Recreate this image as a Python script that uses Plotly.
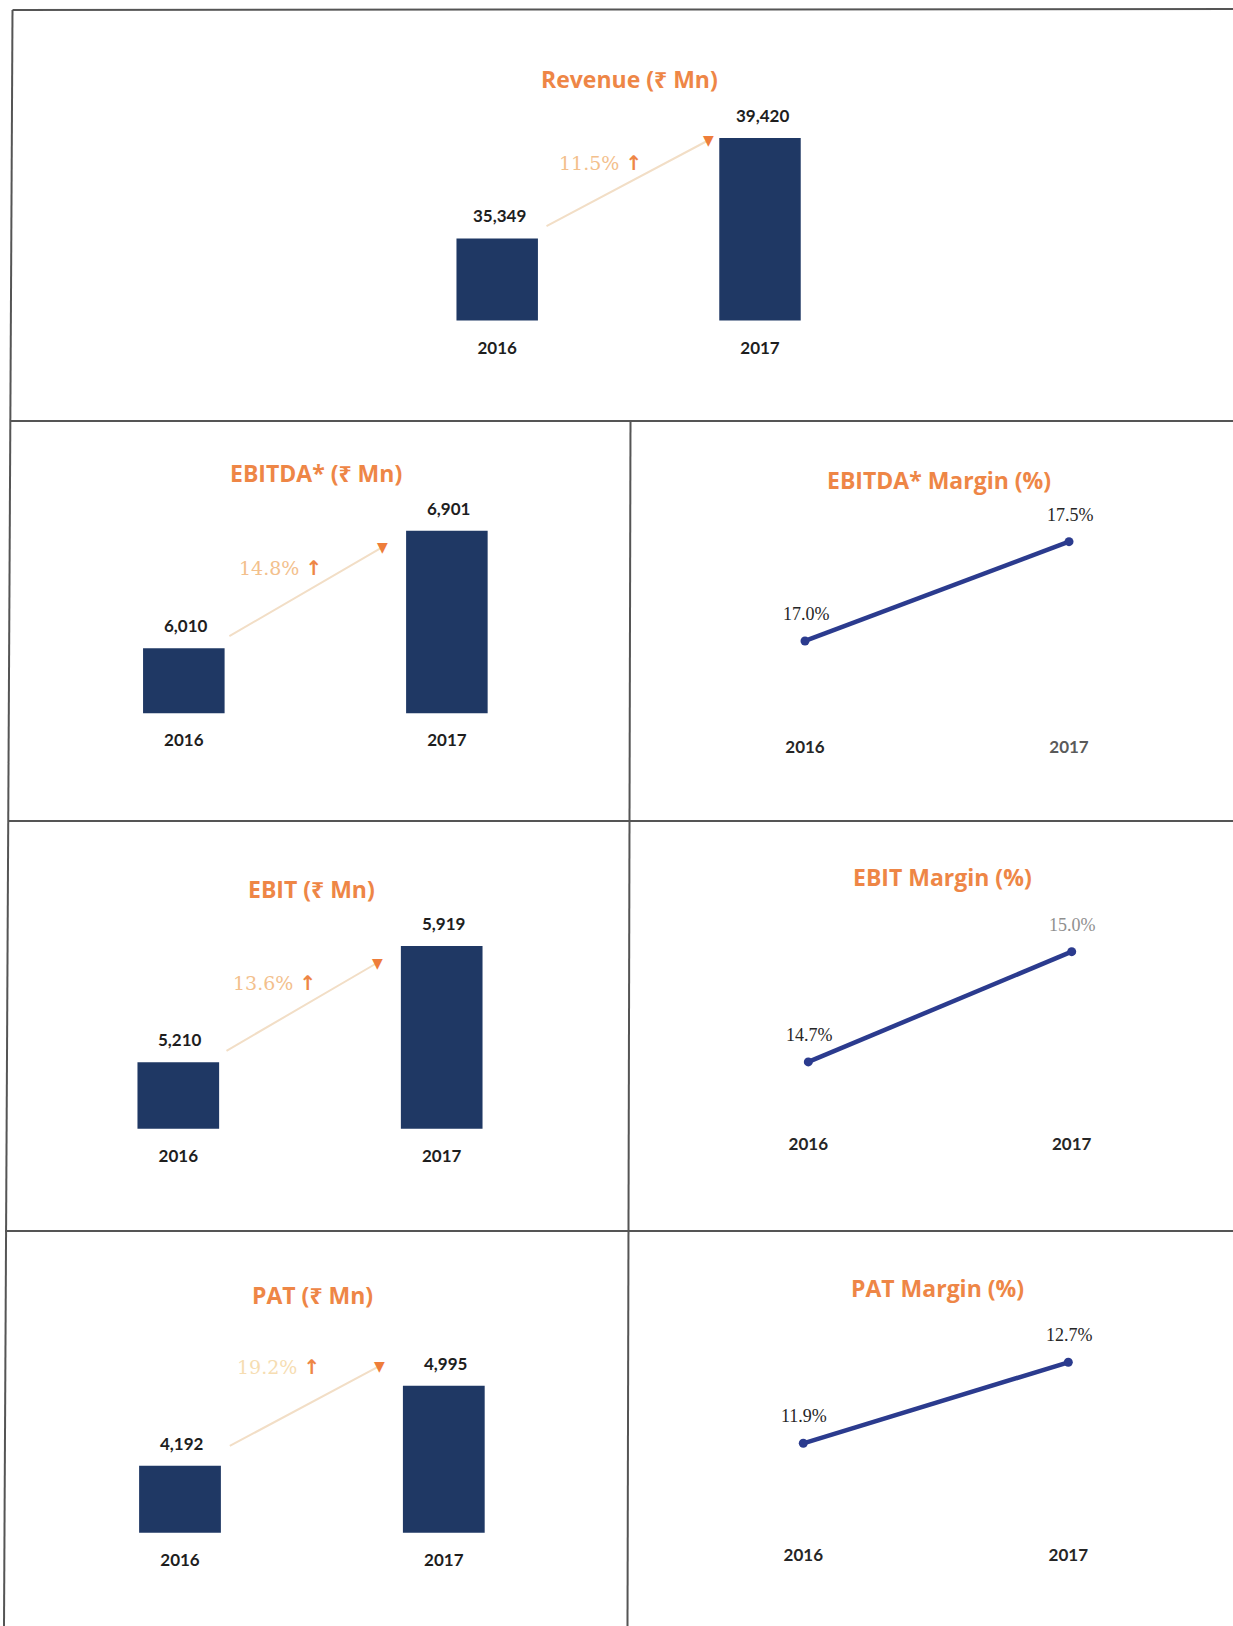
import plotly.graph_objects as go

# ---------------- data ----------------
years = ["2016", "2017"]
revenue = [35349, 39420]
ebitda = [6010, 6901]
ebit = [5210, 5919]
pat = [4192, 4995]
ebitda_margin = [17.0, 17.5]
ebit_margin = [14.7, 15.0]
pat_margin = [11.9, 12.7]

bar_titles = ["Revenue (₹ Mn)", "EBITDA* (₹ Mn)", "EBIT (₹ Mn)", "PAT (₹ Mn)"]
line_titles = ["EBITDA* Margin (%)", "EBIT Margin (%)", "PAT Margin (%)"]

# ---------------- layout helpers ----------------
W, H = 1233, 1626


def xp(px):
    return px / W


def yp(py):
    return 1 - py / H


ORANGE = "#EE8646"
PEACH = "#F3C08C"
NAVY_BAR = "#1F3864"
NAVY_LINE = "#2B3B8E"
DARK = "#1e1e1e"
BORDER = "#555555"
LABEL_FONT = "Lato, 'Noto Sans', sans-serif"
TITLE_FONT = "'Open Sans', 'Noto Sans', sans-serif"
SERIF = "'DejaVu Serif', 'Liberation Serif', serif"

bar_panels = [
    dict(values=revenue, title=bar_titles[0], xdom=(365.8, 891.4), ydom=(99.0, 320.5),
         yrange=(32027, 41000), title_xy=(629, 79), growth_xy=(600, 163),
         head=(-52, -2.5), tail=(-163, 86.5), gcolor=PEACH),
    dict(values=ebitda, title=bar_titles[1], xdom=(52.3, 578.4), ydom=(491.2, 713.3),
         yrange=(5517.5, 7200), title_xy=(316, 473), growth_xy=(280, 568),
         head=(-64, -16.3), tail=(-155, 90), gcolor=PEACH),
    dict(values=ebit, title=bar_titles[2], xdom=(46.6, 573.4), ydom=(899.9, 1128.7),
         yrange=(4805, 6200), title_xy=(311, 889), growth_xy=(274.5, 983),
         head=(-64.7, -17), tail=(-152, 88.7), gcolor=PEACH),
    dict(values=pat, title=bar_titles[3], xdom=(48.1, 575.7), ydom=(1315.5, 1532.7),
         yrange=(3519.5, 5700), title_xy=(312, 1295), growth_xy=(278, 1367),
         head=(-64.5, 19.7), tail=(-151, 80.7), gcolor="#F6DDB2"),
]

line_panels = [
    dict(values=ebitda_margin, title=line_titles[0], xdom=(673, 1201), ydom=(490, 720),
         yrange=(16.602, 17.760), title_xy=(939, 480), lblcolors=["#262626", "#262626"],
         tickcolors=["#262626", "#5a5a5a"]),
    dict(values=ebit_margin, title=line_titles[1], xdom=(676.6, 1203.4), ydom=(887, 1117),
         yrange=(14.550, 15.176), title_xy=(942, 877), lblcolors=["#262626", "#8f8f8f"],
         tickcolors=["#262626", "#262626"]),
    dict(values=pat_margin, title=line_titles[2], xdom=(670.8, 1200.8), ydom=(1298, 1528),
         yrange=(11.0635, 13.335), title_xy=(937, 1288), lblcolors=["#262626", "#262626"],
         tickcolors=["#262626", "#262626"]),
]

hidden_y = dict(showgrid=False, zeroline=False, showline=False, showticklabels=False, ticks="")

fig = go.Figure()
annotations = []
layout_axes = {}


def title_ann(p):
    return dict(x=xp(p["title_xy"][0]), y=yp(p["title_xy"][1]), xref="paper", yref="paper",
                text=p["title"], showarrow=False, xanchor="center", yanchor="middle",
                font=dict(family=TITLE_FONT, size=23, color=ORANGE, weight="bold"))


idx = 0
for p in bar_panels:
    idx += 1
    xa = "x" if idx == 1 else f"x{idx}"
    ya = "y" if idx == 1 else f"y{idx}"
    fig.add_trace(go.Bar(x=years, y=p["values"], width=0.31, marker_color=NAVY_BAR,
                         marker_line_width=0, xaxis=xa, yaxis=ya, hoverinfo="skip",
                         showlegend=False))
    xkey = "xaxis" if idx == 1 else f"xaxis{idx}"
    ykey = "yaxis" if idx == 1 else f"yaxis{idx}"
    layout_axes[xkey] = dict(domain=[xp(p["xdom"][0]), xp(p["xdom"][1])], anchor=ya,
                             type="category", categoryorder="array", categoryarray=years,
                             range=[-0.5, 1.5], showgrid=False, zeroline=False, showline=False,
                             ticks="", ticklabelstandoff=15,
                             tickfont=dict(family=LABEL_FONT, size=17, color=DARK, weight="bold"))
    layout_axes[ykey] = dict(domain=[yp(p["ydom"][1]), yp(p["ydom"][0])], anchor=xa,
                             range=list(p["yrange"]), **hidden_y)
    # value labels (x given as category index)
    for i, v in enumerate(p["values"]):
        annotations.append(dict(x=i, y=v, xref=xa, yref=ya, text=f"{v:,}", showarrow=False,
                                yshift=22.5, xshift=2, yanchor="middle",
                                font=dict(family=LABEL_FONT, size=17, color=DARK, weight="bold")))
    # growth connector line
    hx, hy = p["head"]
    tx, ty = p["tail"]
    annotations.append(dict(x=1, y=p["values"][1], xref=xa, yref=ya, text="",
                            showarrow=True, arrowhead=0, arrowwidth=2, arrowcolor="#F2DEC6",
                            ax=tx, ay=ty, xshift=hx, yshift=hy, standoff=0, startstandoff=0))
    annotations.append(dict(x=1, y=p["values"][1], xref=xa, yref=ya, text="▼",
                            showarrow=False, xshift=hx, yshift=hy, yanchor="middle",
                            font=dict(family="DejaVu Sans", size=14, color="#EE7D3A")))
    growth = (p["values"][1] / p["values"][0] - 1) * 100
    gtext = (f"<span style='color:{p['gcolor']}'>{growth:.1f}%</span> "
             f"<span style='color:{ORANGE};font-family:DejaVu Sans;font-size:20px'><b>↑</b></span>")
    annotations.append(dict(x=xp(p["growth_xy"][0]), y=yp(p["growth_xy"][1]), xref="paper",
                            yref="paper", text=gtext, showarrow=False, xanchor="center",
                            yanchor="middle", font=dict(family=SERIF, size=19)))
    annotations.append(title_ann(p))

for p in line_panels:
    idx += 1
    xa = f"x{idx}"
    ya = f"y{idx}"
    fig.add_trace(go.Scatter(x=years, y=p["values"], mode="lines+markers",
                             line=dict(color=NAVY_LINE, width=4.5),
                             marker=dict(size=9, color=NAVY_LINE),
                             xaxis=xa, yaxis=ya, hoverinfo="skip", showlegend=False))
    ticktext = [f"<span style='color:{c}'>{y}</span>" for y, c in zip(years, p["tickcolors"])]
    layout_axes[f"xaxis{idx}"] = dict(domain=[xp(p["xdom"][0]), xp(p["xdom"][1])], anchor=ya,
                                      type="category", categoryorder="array",
                                      categoryarray=years, range=[-0.5, 1.5],
                                      tickmode="array", tickvals=years, ticktext=ticktext,
                                      showgrid=False, zeroline=False, showline=False, ticks="",
                                      ticklabelstandoff=15,
                                      tickfont=dict(family=LABEL_FONT, size=17,
                                                    color="#262626", weight="bold"))
    layout_axes[f"yaxis{idx}"] = dict(domain=[yp(p["ydom"][1]), yp(p["ydom"][0])], anchor=xa,
                                      range=list(p["yrange"]), **hidden_y)
    for i, (v, c) in enumerate(zip(p["values"], p["lblcolors"])):
        annotations.append(dict(x=i, y=v, xref=xa, yref=ya, text=f"{v:.1f}%",
                                showarrow=False, yshift=27, xshift=1, yanchor="middle",
                                font=dict(family="'Liberation Serif', serif", size=18, color=c)))
    annotations.append(title_ann(p))

# ---------------- table borders ----------------
border_lines = [
    (12.5, 10, 1233, 9),       # top
    (12.5, 10, 4, 1626),       # left
    (11, 421, 1233, 421),      # row 1/2
    (8, 821, 1233, 821),       # row 2/3
    (5, 1231, 1233, 1231),     # row 3/4
    (630.5, 421, 627.5, 1626), # middle
]
shapes = [dict(type="line", xref="paper", yref="paper", x0=xp(a), y0=yp(b), x1=xp(c), y1=yp(d),
               line=dict(color=BORDER, width=2)) for a, b, c, d in border_lines]

fig.update_layout(
    width=W, height=H, margin=dict(l=0, r=0, t=0, b=0),
    paper_bgcolor="white", plot_bgcolor="rgba(0,0,0,0)",
    annotations=annotations, shapes=shapes, showlegend=False, hovermode=False,
    **layout_axes,
)

fig.write_html("out.html", config={"displayModeBar": False},
               post_script="document.body.style.margin='0';document.body.style.overflow='hidden';")
